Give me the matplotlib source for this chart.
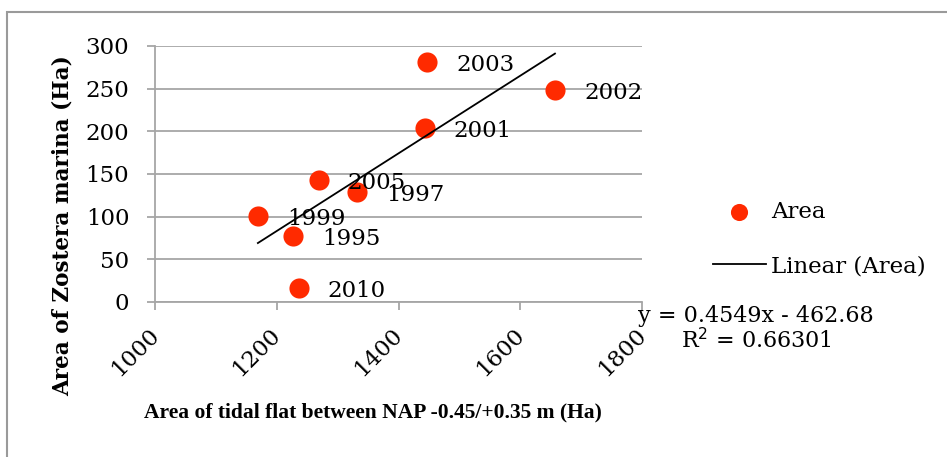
import matplotlib
matplotlib.use('Agg')
import matplotlib.pyplot as plt
from matplotlib.patches import Rectangle
from matplotlib.transforms import ScaledTranslation

# data
years = ['2003', '2002', '2001', '2005', '1997', '1999', '1995', '2010']
tidal_flat = [1447, 1657, 1443, 1269, 1332, 1169, 1227, 1236]
zostera = [281, 248, 204, 143, 129, 101, 77, 16]
slope = 0.4549
intercept = -462.68
r2 = 0.66301

x_ticks = [1000, 1200, 1400, 1600, 1800]
y_ticks = [0, 50, 100, 150, 200, 250, 300]

plt.rcParams['font.family'] = 'DejaVu Serif'
W, H = 947, 457
fig = plt.figure(figsize=(W / 100, H / 100), dpi=100)
ax = fig.add_axes([155 / W, 1 - 302 / H, 487 / W, 256 / H])

grid_col = '#a6a6a6'
red = '#ff2a00'
fs = 16.5

# Excel-like gridlines and axes
for yt in y_ticks:
    ax.axhline(yt, color=grid_col, lw=1.3, zorder=1)
ax.scatter(tidal_flat, zostera, s=210, color=red, zorder=3, label='Area', linewidths=0)

# linear trendline over the data range
xmin, xmax = min(tidal_flat), max(tidal_flat)
ax.plot([xmin, xmax], [slope * xmin + intercept, slope * xmax + intercept],
        color='black', lw=1.3, zorder=4, label='Linear (Area)')

for yr, x, y in zip(years, tidal_flat, zostera):
    ax.annotate(yr, (x, y), xytext=(29, -3), textcoords='offset pixels',
                ha='left', va='center', fontsize=fs, zorder=5)

ax.set_xlim(1000, 1800)
ax.set_ylim(0, 300)
ax.set_xticks(x_ticks)
ax.set_yticks(y_ticks)
ax.set_xticklabels([str(t) for t in x_ticks], rotation=45, ha='right',
                   rotation_mode='anchor')
ax.set_yticklabels([str(t) for t in y_ticks])
ax.tick_params(axis='both', colors=grid_col, labelcolor='black', labelsize=fs,
               length=6, width=1.3, direction='out')
ax.tick_params(axis='y', pad=12.5)
ax.tick_params(axis='x', pad=10)
shift = ScaledTranslation(-7 / 100, 0, fig.dpi_scale_trans)
for lbl in ax.get_xticklabels():
    lbl.set_transform(lbl.get_transform() + shift)
for s in ['top', 'right']:
    ax.spines[s].set_visible(False)
for s in ['left', 'bottom']:
    ax.spines[s].set_color(grid_col)
    ax.spines[s].set_linewidth(1.3)

fig.text(63 / W, 1 - 226 / H, 'Area of Zostera marina (Ha)', rotation=90,
         ha='center', va='center', fontsize=15.5, fontweight='bold')
fig.text(373 / W, 1 - 412 / H, 'Area of tidal flat between NAP -0.45/+0.35 m (Ha)',
         ha='center', va='center', fontsize=15.5, fontweight='bold',
         family='Liberation Serif')

leg = fig.legend(loc='upper left', bbox_to_anchor=(713 / W, 1 - 201 / H),
                 frameon=False, fontsize=fs, handlelength=2.3, handletextpad=0.25,
                 labelspacing=1.4, borderpad=0, borderaxespad=0, markerscale=0.85)

fig.text(756 / W, 1 - 316 / H, 'y = 0.4549x - 462.68', ha='center', va='center',
         fontsize=16)
fig.text(756 / W, 1 - 341 / H, 'R$^2$ = 0.66301', ha='center', va='center',
         fontsize=16)

# outer chart border (only left and top edges are visible in the crop)
top = 1 - 12 / H
fig.patches.append(Rectangle((7 / W, -0.2), 1.2, top + 0.2,
                             transform=fig.transFigure, fill=False,
                             edgecolor='#9a9a9a', lw=1.5))

fig.savefig('out.png', dpi=100)
